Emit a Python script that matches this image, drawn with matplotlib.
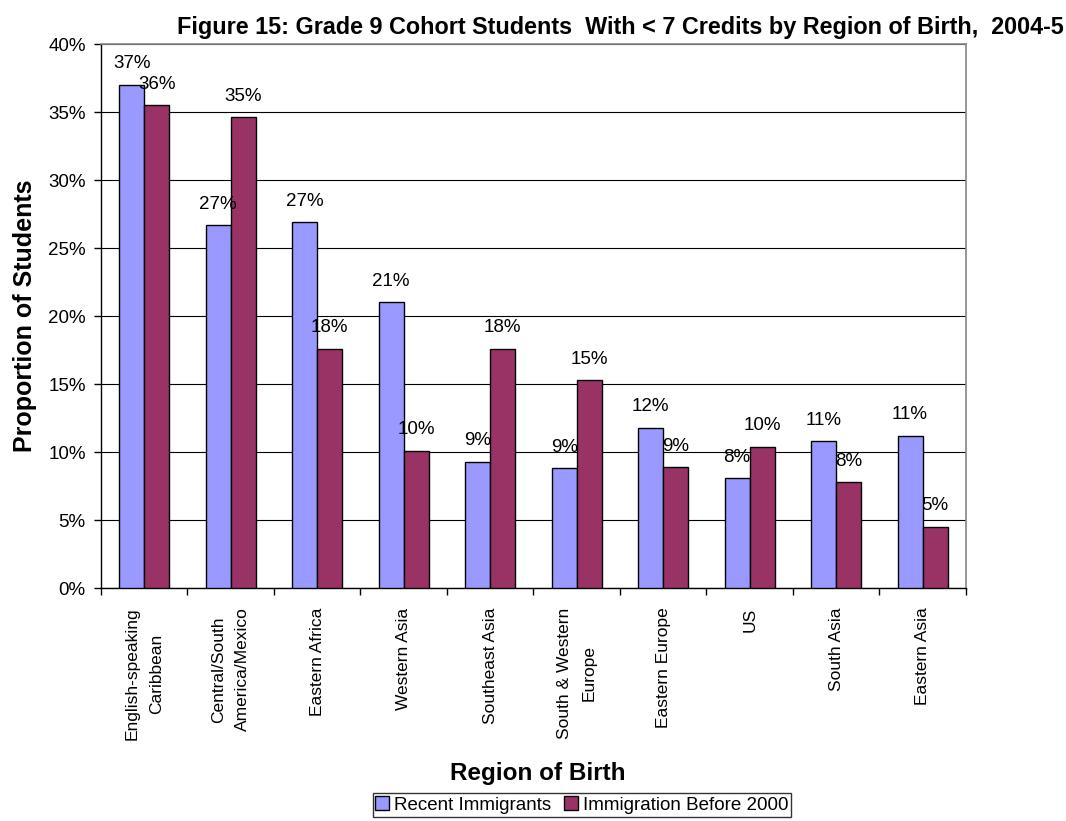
import matplotlib.pyplot as plt
import numpy as np
from matplotlib.ticker import FixedLocator, PercentFormatter

plt.rcParams["font.family"] = ["Liberation Sans", "DejaVu Sans"]

REGIONS = [
    "English-speaking\nCaribbean", "Central/South\nAmerica/Mexico", "Eastern Africa",
    "Western Asia", "Southeast Asia", "South & Western\nEurope", "Eastern Europe",
    "US", "South Asia", "Eastern Asia",
]
RECENT = [37.0, 26.7, 26.9, 21.0, 9.3, 8.8, 11.8, 8.1, 10.8, 11.2]
BEFORE_2000 = [35.5, 34.6, 17.6, 10.1, 17.6, 15.3, 8.9, 10.4, 7.8, 4.5]
LABELS_RECENT = ["37%", "27%", "27%", "21%", "9%", "9%", "12%", "8%", "11%", "11%"]
LABELS_BEFORE = ["36%", "35%", "18%", "10%", "18%", "15%", "9%", "10%", "8%", "5%"]
SERIES_NAMES = ["Recent Immigrants", "Immigration Before 2000"]
COLORS = ["#9999FF", "#993366"]

fig = plt.figure(figsize=(10.66, 8.21), dpi=100)
ax = fig.add_axes([0.0947, 0.2838, 0.8114, 0.6626])

x = np.arange(len(REGIONS))
w = 0.29
bars = []
for i, (vals, texts, name, col) in enumerate(zip([RECENT, BEFORE_2000], [LABELS_RECENT, LABELS_BEFORE],
                                                SERIES_NAMES, COLORS)):
    b = ax.bar(x + (i - 0.5) * w, vals, w, color=col, edgecolor="black", linewidth=1.0, label=name, zorder=3)
    bars.append(b)
    for rect, v, t in zip(b, vals, texts):
        ax.annotate(t, (rect.get_x() + rect.get_width() / 2, v),
                    xytext=(0, 15), textcoords="offset points", ha="center", va="center",
                    fontsize=13.5, zorder=4)

ax.set_xlim(-0.5, len(REGIONS) - 0.5)
ax.set_ylim(0, 40)
ax.yaxis.set_major_locator(FixedLocator(np.arange(0, 41, 5)))
ax.yaxis.set_major_formatter(PercentFormatter(decimals=0))
ax.grid(axis="y", color="black", linewidth=0.8, zorder=0)
ax.set_xticks(x)
ax.set_xticklabels(REGIONS, rotation=90, va="top", ha="center", fontsize=12.5)
for lbl in ax.get_xticklabels():
    lbl.set_multialignment("center")
    lbl.set_linespacing(1.75)
ax.tick_params(axis="x", which="major", length=0, pad=14)
ax.xaxis.set_minor_locator(FixedLocator(np.arange(-0.5, len(REGIONS), 1)))
ax.tick_params(axis="x", which="minor", length=5, color="black", width=1)
ax.tick_params(axis="y", length=5, width=1, labelsize=13.5, color="black", pad=6)

for s in ["left", "bottom"]:
    ax.spines[s].set_color("black")
    ax.spines[s].set_linewidth(1.0)
for s in ["top", "right"]:
    ax.spines[s].set_color("#888888")
    ax.spines[s].set_linewidth(1.2)

fig.text(0.5815, 0.967, "Figure 15: Grade 9 Cohort Students  With < 7 Credits by Region of Birth,  2004-5",
         ha="center", va="center", fontsize=16.8, fontweight="bold")
fig.text(0.504, 0.058, "Region of Birth", ha="center", va="center", fontsize=17.5, fontweight="bold")
fig.text(0.023, 0.616, "Proportion of Students", ha="center", va="center", rotation=90,
         fontsize=18, fontweight="bold")

leg = fig.legend(handles=bars, labels=SERIES_NAMES, loc="center", bbox_to_anchor=(0.546, 0.0195),
                 ncol=2, fontsize=13.5, frameon=True, fancybox=False, edgecolor="black",
                 handlelength=0.75, handleheight=0.75, handletextpad=0.25, columnspacing=0.7,
                 borderpad=0.15, borderaxespad=0)
leg.get_frame().set_linewidth(1.0)

fig.savefig("out.png", dpi=100)
